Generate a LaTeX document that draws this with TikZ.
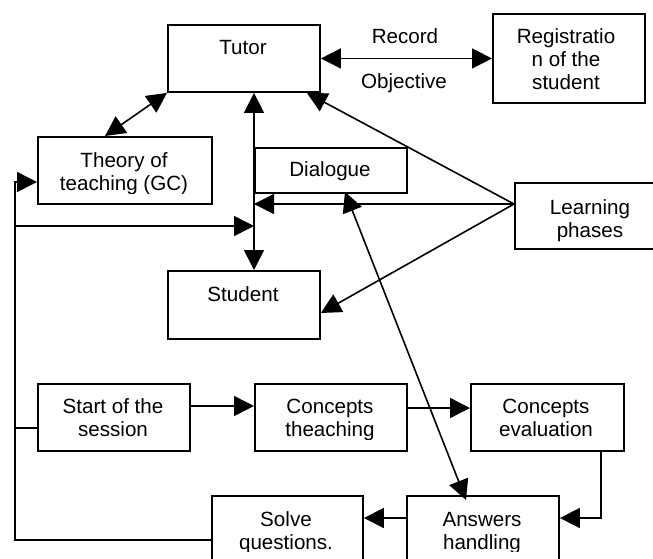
\documentclass[tikz,border=0pt]{standalone}
\usepackage{fontspec}
\setmainfont{Liberation Sans}
\usetikzlibrary{arrows.meta,calc}
% stacked lines, baseline on the first line
\newcommand{\lines}[1]{\begin{tabular}[t]{@{}c@{}}#1\end{tabular}}
\begin{document}
\begin{tikzpicture}[x=1pt,y=-1pt,
  box/.style={draw, line width=1.9pt, rectangle, inner sep=0pt, anchor=north west},
  lbl/.style={anchor=base, inner sep=0pt, font=\fontsize{20.6}{23}\selectfont},
  link/.style={line width=1.6pt},
  tip/.style={-{Triangle[length=20pt,width=20pt]}},
  both/.style={{Triangle[length=20pt,width=20pt]}-{Triangle[length=20pt,width=20pt]}},
]
\useasboundingbox (0,0) rectangle (653,558);
\clip (0,0) rectangle (653,558);

% boxes
\node[box, minimum width=152, minimum height=67] (tutor)    at (167,24)  {};
\node[box, minimum width=152, minimum height=89] (reg)      at (492,13)  {};
\node[box, minimum width=174, minimum height=67] (theory)   at (37,136)  {};
\node[box, minimum width=152, minimum height=45] (dialogue) at (254,147) {};
\node[box, minimum width=150, minimum height=66] (learning) at (514,182) {};
\node[box, minimum width=152, minimum height=68] (student)  at (167,270) {};
\node[box, minimum width=152, minimum height=67] (start)    at (37,383)  {};
\node[box, minimum width=152, minimum height=67] (teach)    at (254,383) {};
\node[box, minimum width=153, minimum height=67] (eval)     at (470,383) {};
\node[box, minimum width=151, minimum height=80] (solve)    at (211,495) {};
\node[box, minimum width=152, minimum height=80] (answers)  at (406,495) {};

% texts
\node[lbl] (tutorT)    at (243,54)  {Tutor};
\node[lbl] (regT)      at (566,43)  {\lines{Registratio\\n of the\\student}};
\node[lbl] (recordT)   at (405,43)  {Record};
\node[lbl] (objT)      at (404,88)  {Objective};
\begin{scope}
  \clip (37,136) rectangle (211,193);
  \node[lbl] (theoryT) at (124,167) {\lines{Theory of\\teaching (GC)}};
\end{scope}
\node[lbl] (dialogueT) at (330,176) {Dialogue};
\node[lbl] (learningT) at (590,214) {\lines{Learning\\phases}};
\node[lbl] (studentT)  at (243,301) {Student};
\node[lbl] (startT)    at (113,413) {\lines{Start of the\\session}};
\begin{scope}
  \clip (254,383) rectangle (406,439);
  \node[lbl] (teachT)  at (330,413) {\lines{Concepts\\theaching}};
\end{scope}
\node[lbl] (evalT)     at (546,413) {\lines{Concepts\\evaluation}};
\begin{scope}
  \clip (211,495) rectangle (558,551);
  \node[lbl] (solveT)   at (286,526) {\lines{Solve\\questions.}};
  \node[lbl] (answersT) at (482,526) {\lines{Answers\\handling}};
\end{scope}

% connectors
\draw[link,both] (tutor.east) -- (reg.west);
\draw[link,both] (tutor.south west) -- ($(theory.north west)+(68,0)$);
\draw[link,both] (tutor.south -| dialogue.west) -- (student.north -| dialogue.west);

\coordinate (lp) at ($(learning.north west)+(0,22)$);
\draw[link,tip] (lp) -- ($(tutor.south east)+(-14,0)$);
\draw[link,tip] (lp) -- (lp -| dialogue.west);
\draw[link,tip] (lp) -- ($(student.north east)+(0,43)$);

\draw[link,both] ($(dialogue.south west)+(91,-2)$) -- ($(answers.north west)+(60,5)$);

% return line on the left
\coordinate (busTop) at (15,182);
\coordinate (busMid) at (15,226);
\draw[link,tip] ($(solve.north west)+(0,45)$) -| (busTop) -- (busTop -| theory.west);
\draw[link,tip] (busMid) -- (busMid -| dialogue.west);
\coordinate (startL) at ($(start.north west)+(0,45)$);
\draw[link] (startL) -- (startL -| busTop);

% session flow
\coordinate (s1) at ($(start.north east)+(0,23)$);
\draw[link,tip] (s1) -- (s1 -| teach.west);
\coordinate (s2) at ($(teach.north east)+(0,25)$);
\draw[link,tip] (s2) -- (s2 -| eval.west);
\coordinate (s3) at ($(eval.south west)+(131,0)$);
\draw[link,tip] (s3) |- ($(answers.north east)+(0,23)$);
\coordinate (s4) at ($(answers.north west)+(0,23)$);
\draw[link,tip] (s4) -- (s4 -| solve.east);
\end{tikzpicture}
\end{document}
